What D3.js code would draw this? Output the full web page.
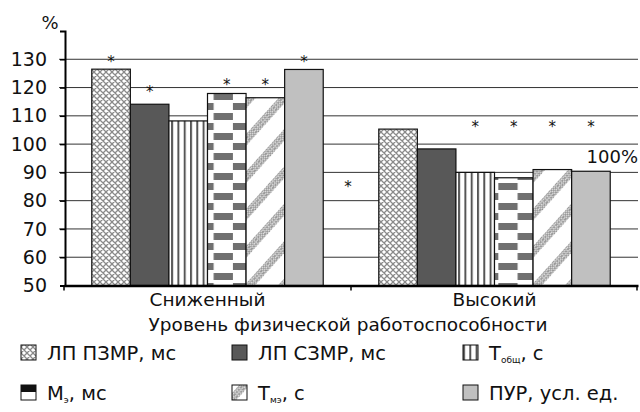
<!DOCTYPE html>
<html>
<head>
<meta charset="utf-8">
<script src="https://cdn.jsdelivr.net/npm/d3@7.9.0/dist/d3.min.js"></script>
<style>
  body { margin: 0; background: #fff; }
  svg text { font-family: "DejaVu Sans", sans-serif; fill: #111; }
</style>
</head>
<body>
<svg id="chart" width="640" height="412"></svg>
<script>
// data
const categories = ['Сниженный', 'Высокий'];
const seriesKeys = ['lpp', 'lps', 'tob', 'me', 'tme', 'pur'];
const lowValues = [126.5, 114.1, 108.2, 117.9, 116.4, 126.4];
const highValues = [105.3, 98.3, 90.0, 88.1, 91.0, 90.4];
const yTicks = [50, 60, 70, 80, 90, 100, 110, 120, 130];
// asterisks: [category index, series index, value level]
const stars = [
  [0, 0, 130], [0, 1, 119.6], [0, 3, 122], [0, 4, 122], [0, 5, 130],
  [1, 2, 107.1], [1, 3, 107.1], [1, 4, 107.1], [1, 5, 107.1]
];
const loneStarValue = 86;
const hundredLabelValue = 93.4;

const svg = d3.select('#chart');
const defs = svg.append('defs');

// scales
const y = d3.scaleLinear().domain([50, 140]).range([285.5, 31]);
const x0 = d3.scaleBand().domain(categories).range([64, 638]).paddingInner(0).paddingOuter(0);
const x1 = d3.scaleBand().domain(seriesKeys).range([0, x0.bandwidth()]).paddingInner(0).paddingOuter(0.72);

// patterns
let p = defs.append('pattern').attr('id', 'cross').attr('patternUnits', 'userSpaceOnUse')
  .attr('width', 6).attr('height', 6);
p.append('rect').attr('width', 6).attr('height', 6).attr('fill', '#fff');
p.append('path').attr('d', 'M0,0L6,6M6,0L0,6M-1,5L1,7M5,-1L7,1M-1,1L1,-1M5,7L7,5')
  .attr('stroke', '#8a8a8a').attr('stroke-width', 1.3);

p = defs.append('pattern').attr('id', 'vstripe').attr('patternUnits', 'userSpaceOnUse')
  .attr('width', 6.3).attr('height', 10);
p.append('rect').attr('width', 6.3).attr('height', 10).attr('fill', '#fff');
p.append('rect').attr('x', 0).attr('width', 2).attr('height', 10).attr('fill', '#555');

categories.forEach((c, i) => {
  const bx = x0(c) + x1('me');
  const bw = x1.bandwidth();
  const pp = defs.append('pattern').attr('id', 'check' + i).attr('patternUnits', 'userSpaceOnUse')
    .attr('x', bx).attr('y', 0).attr('width', bw).attr('height', 20);
  pp.append('rect').attr('width', bw).attr('height', 20).attr('fill', '#fff');
  pp.append('rect').attr('x', 0).attr('y', 3).attr('width', bw / 2).attr('height', 7).attr('fill', '#707070');
  pp.append('rect').attr('x', bw / 2).attr('y', 13).attr('width', bw / 2).attr('height', 7).attr('fill', '#707070');
});

p = defs.append('pattern').attr('id', 'fine').attr('patternUnits', 'userSpaceOnUse')
  .attr('width', 3).attr('height', 3);
p.append('rect').attr('width', 3).attr('height', 3).attr('fill', '#dcdcdc');
p.append('path').attr('d', 'M0,0L3,3M3,0L0,3').attr('stroke', '#8c8c8c').attr('stroke-width', 0.8);

p = defs.append('pattern').attr('id', 'diag').attr('patternUnits', 'userSpaceOnUse')
  .attr('width', 25).attr('height', 10).attr('patternTransform', 'rotate(42)');
p.append('rect').attr('width', 25).attr('height', 10).attr('fill', '#fff');
p.append('rect').attr('x', 0).attr('width', 8).attr('height', 10).attr('fill', 'url(#fine)');

const fills = {
  lpp: () => 'url(#cross)',
  lps: () => '#585858',
  tob: () => 'url(#vstripe)',
  me: i => 'url(#check' + i + ')',
  tme: () => 'url(#diag)',
  pur: () => '#c0c0c0'
};

// gridlines
svg.append('g').selectAll('line').data(yTicks.slice(1)).join('line')
  .attr('x1', 59).attr('x2', 638)
  .attr('y1', d => y(d)).attr('y2', d => y(d))
  .attr('stroke', '#333').attr('stroke-width', 1);

// bars
const table = categories.map((c, i) => ({ cat: c, i, vals: i === 0 ? lowValues : highValues }));
const groups = svg.append('g').selectAll('g').data(table).join('g')
  .attr('transform', d => `translate(${x0(d.cat)},0)`);
groups.selectAll('rect').data(d => seriesKeys.map((k, j) => ({ k, v: d.vals[j], i: d.i }))).join('rect')
  .attr('x', d => x1(d.k))
  .attr('y', d => y(d.v))
  .attr('width', x1.bandwidth())
  .attr('height', d => y(50) - y(d.v))
  .attr('fill', d => fills[d.k](d.i))
  .attr('stroke', '#111').attr('stroke-width', 1.2);

// y axis
const yAxis = svg.append('g').attr('transform', 'translate(65,0)')
  .call(d3.axisLeft(y).tickValues(yTicks).tickSize(5).tickPadding(13));
yAxis.select('.domain').attr('stroke', '#000').attr('stroke-width', 2);
yAxis.selectAll('.tick line').attr('stroke', '#000').attr('stroke-width', 1.5);
yAxis.selectAll('text').attr('font-size', 19).attr('font-family', 'DejaVu Sans, sans-serif')
  .attr('fill', '#111');

svg.append('text').attr('x', 50).attr('y', 29).attr('text-anchor', 'middle')
  .attr('font-size', 18).text('%');

// x axis
const xAxis = svg.append('g').attr('transform', `translate(0,${y(50)})`)
  .call(d3.axisBottom(x0).tickSize(0).tickPadding(7));
xAxis.select('.domain').attr('stroke', '#000').attr('stroke-width', 2.5);
xAxis.selectAll('text').attr('font-size', 18.5).attr('font-family', 'DejaVu Sans, sans-serif')
  .attr('fill', '#111');
svg.append('g').selectAll('line').data([x0.range()[0], x0(categories[1]), x0.range()[1] - 1]).join('line')
  .attr('x1', d => d).attr('x2', d => d)
  .attr('y1', y(50)).attr('y2', y(50) + 5)
  .attr('stroke', '#000').attr('stroke-width', 1.5);

svg.append('text').attr('x', 348).attr('y', 331).attr('text-anchor', 'middle')
  .attr('font-size', 18.5).text('Уровень физической работоспособности');

// asterisks
svg.append('g').selectAll('text').data(stars).join('text')
  .attr('x', d => x0(categories[d[0]]) + x1(seriesKeys[d[1]]) + x1.bandwidth() / 2)
  .attr('y', d => y(d[2]) + 8)
  .attr('text-anchor', 'middle').attr('font-size', 15).attr('fill', '#333').text('*');
svg.append('text').attr('x', x0(categories[1]) - 3).attr('y', y(loneStarValue) + 8)
  .attr('text-anchor', 'middle').attr('font-size', 15).attr('fill', '#333').text('*');
svg.append('text').attr('x', 638).attr('y', y(hundredLabelValue))
  .attr('text-anchor', 'end').attr('font-size', 18).text('100%');

// legend
const legendItems = [
  { k: 'lpp', label: 'ЛП ПЗМР, мс' },
  { k: 'lps', label: 'ЛП СЗМР, мс' },
  { k: 'tob', label: 'Т', sub: 'общ', tail: ', с' },
  { k: 'me', label: 'М', sub: 'э', tail: ', мс' },
  { k: 'tme', label: 'Т', sub: 'мэ', tail: ', с' },
  { k: 'pur', label: 'ПУР, усл. ед.' }
];
const colX = [21, 232, 463];
const rowY = [353, 393];
const leg = svg.append('g').selectAll('g').data(legendItems).join('g')
  .attr('transform', (d, i) => `translate(${colX[i % 3]},${rowY[Math.floor(i / 3)]})`);
leg.each(function (d) {
  const g = d3.select(this);
  if (d.k === 'me') {
    g.append('rect').attr('x', 0).attr('y', -8).attr('width', 15).attr('height', 15).attr('fill', '#fff');
    g.append('rect').attr('x', 0).attr('y', -8).attr('width', 15).attr('height', 7).attr('fill', '#111');
    g.append('rect').attr('x', 0).attr('y', -8).attr('width', 15).attr('height', 15)
      .attr('fill', 'none').attr('stroke', '#111').attr('stroke-width', 1);
  } else {
    g.append('rect').attr('x', 0).attr('y', -8).attr('width', 15).attr('height', 15)
      .attr('fill', fills[d.k](0)).attr('stroke', '#111').attr('stroke-width', 1);
  }
  const t = g.append('text').attr('x', 26).attr('y', 7).attr('font-size', 19.5);
  t.append('tspan').text(d.label);
  if (d.sub) {
    t.append('tspan').attr('font-size', 9).attr('dy', 3).text(d.sub);
    t.append('tspan').attr('dy', -3).text(d.tail);
  }
});
</script>
</body>
</html>
